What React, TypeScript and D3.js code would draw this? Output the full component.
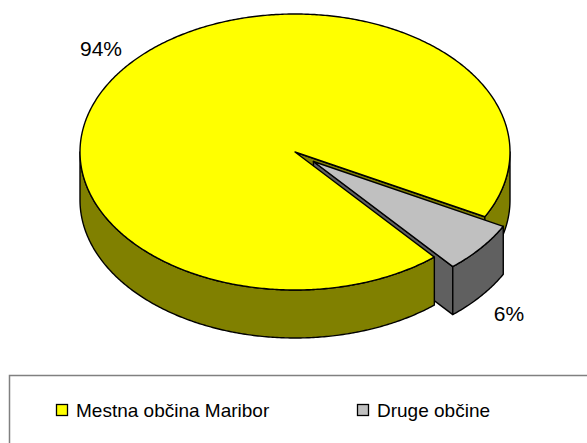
import React from "react";
import * as d3 from "d3";

const categories = ["Mestna občina Maribor", "Druge občine"];
const values = [94, 6];
const labels = ["94%", "6%"];
const topColors = ["#FFFF00", "#C0C0C0"];
const sideColors = ["#808000", "#606060"];
const exploded = [0, 0.11];

const W = 587;
const H = 443;
const cx = 295;
const cy = 152;
const rx = 215;
const ry = 138;
const depth = 48;
const startDeg = 49.6; // screen angle where first slice starts (clockwise from +x)

type Pt = [number, number];

export default function App() {
  const pie = d3
    .pie<number>()
    .sort(null)
    .startAngle(((startDeg + 90) * Math.PI) / 180)
    .endAngle(((startDeg + 90) * Math.PI) / 180 + 2 * Math.PI);
  const arcs = pie(values).map((p, i) => {
    const a = p.startAngle - Math.PI / 2;
    const b = p.endAngle - Math.PI / 2;
    const mid = (a + b) / 2;
    const e = exploded[i];
    return { i, a, b, ox: e * rx * Math.cos(mid), oy: e * ry * Math.sin(mid) };
  });

  const P = (s: (typeof arcs)[0], t: number, h: number): Pt => [
    cx + s.ox + rx * Math.cos(t),
    cy + s.oy + ry * Math.sin(t) + h,
  ];
  const C = (s: (typeof arcs)[0], h: number): Pt => [cx + s.ox, cy + s.oy + h];
  const line = d3.line<Pt>();
  const samples = (s: (typeof arcs)[0], a: number, b: number, h: number) => {
    const n = Math.max(2, Math.ceil(Math.abs(b - a) / 0.01));
    return d3.range(n + 1).map((k) => P(s, a + ((b - a) * k) / n, h));
  };
  const topPath = (s: (typeof arcs)[0]) =>
    line([C(s, 0), ...samples(s, s.a, s.b, 0)]) + "Z";
  const wallPath = (s: (typeof arcs)[0], a: number, b: number) =>
    line([...samples(s, a, b, 0), ...samples(s, b, a, depth)]) + "Z";
  const facePath = (s: (typeof arcs)[0], t: number) =>
    line([C(s, 0), P(s, t, 0), P(s, t, depth), C(s, depth)]) + "Z";

  // visible wall segments: intersect [a,b] with [0,pi] + 2k pi
  const wallSegs = (s: (typeof arcs)[0]) => {
    const segs: [number, number][] = [];
    for (let k = -1; k <= 2; k++) {
      const lo = Math.max(s.a, 2 * Math.PI * k);
      const hi = Math.min(s.b, Math.PI + 2 * Math.PI * k);
      if (hi > lo) segs.push([lo, hi]);
    }
    return segs;
  };

  const big = arcs[0];
  const small = arcs[1];
  const bigSegs = wallSegs(big);
  const backSegs = bigSegs.filter((g) => g[0] > Math.PI);
  const frontSegs = bigSegs.filter((g) => g[0] <= Math.PI);

  const stroke = { stroke: "#000", strokeWidth: 1.4, strokeLinejoin: "round" as const };

  return (
    <svg width={W} height={H} style={{ position: "absolute", left: 0, top: 0 }}>
      <rect x={0} y={0} width={W} height={H} fill="#fff" />
      {/* big slice end face and back wall */}
      {Math.cos(big.b) > 0 && (
        <path d={facePath(big, big.b)} fill={sideColors[0]} {...stroke} />
      )}
      {backSegs.map((g, k) => (
        <path key={"bw" + k} d={wallPath(big, g[0], g[1])} fill={sideColors[0]} {...stroke} />
      ))}
      {/* small slice end face */}
      {Math.cos(small.b) > 0 && (
        <path d={facePath(small, small.b)} fill={sideColors[1]} {...stroke} />
      )}
      {/* big slice front wall and top */}
      {frontSegs.map((g, k) => (
        <path key={"fw" + k} d={wallPath(big, g[0], g[1])} fill={sideColors[0]} {...stroke} />
      ))}
      <path d={topPath(big)} fill={topColors[0]} {...stroke} />
      {/* small slice wall and top */}
      {wallSegs(small).map((g, k) => (
        <path key={"sw" + k} d={wallPath(small, g[0], g[1])} fill={sideColors[1]} {...stroke} />
      ))}
      <path d={topPath(small)} fill={topColors[1]} {...stroke} />

      {/* data labels */}
      <g fontFamily="'Liberation Sans', Arial, sans-serif" fontSize={21} fill="#000">
        <text x={101} y={56} textAnchor="middle">{labels[0]}</text>
        <text x={509} y={321} textAnchor="middle">{labels[1]}</text>
      </g>

      {/* legend */}
      <rect x={9.5} y={375.5} width={600} height={100} fill="none" stroke="#808080" strokeWidth={1.5} />
      <g fontFamily="'Liberation Sans', Arial, sans-serif" fontSize={19} fill="#000">
        {categories.map((c, i) => {
          const lx = i === 0 ? 56 : 357;
          return (
            <g key={c}>
              <rect x={lx + 0.5} y={404.5} width={11} height={11} fill={topColors[i]} stroke="#000" strokeWidth={1.3} />
              <text x={lx + 20} y={417}>{c}</text>
            </g>
          );
        })}
      </g>
    </svg>
  );
}
